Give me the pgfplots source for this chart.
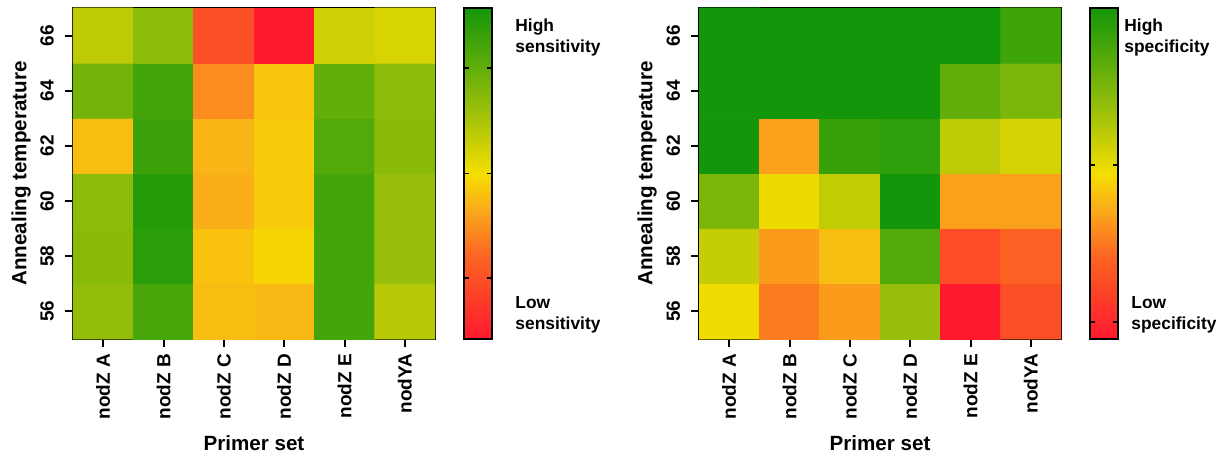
\documentclass[border=0pt]{standalone}
\usepackage{pgfplots}
\pgfplotsset{compat=1.18}
\usepackage{fontspec}
\setmainfont{Liberation Sans}
\setsansfont{Liberation Sans}

\pgfplotsset{
  heat/.style={
    width=181pt, height=165.5pt, scale only axis,
    xmin=-0.5, xmax=5.5, ymin=55, ymax=67,
    enlargelimits=false,
    xtick={0,...,5}, ytick={56,58,...,66},
    xticklabels={nodZ A, nodZ B, nodZ C, nodZ D, nodZ E, nodYA},
    tick align=outside, tick pos=left,
    axis line style={line width=1pt},
    major tick style={line width=1pt, black},
    major tick length=4pt,
    /pgf/number format/assume math mode=true,
    xticklabel style={rotate=90, anchor=east, font=\bfseries\fontsize{9.5}{10}\selectfont},
    yticklabel style={rotate=90, anchor=south, yshift=2pt, font=\bfseries\fontsize{9.5}{10}\selectfont},
    xlabel={Primer set}, ylabel={Annealing temperature},
    label style={font=\bfseries\fontsize{10.3}{12}\selectfont},
    xlabel style={at={(axis description cs:0.5,0)}, anchor=center, yshift=-52pt},
    ylabel style={at={(axis description cs:0,0.5)}, anchor=center, yshift=26pt},
    colormap={ryg}{rgb255(0cm)=(255,25,45) rgb255(2.5cm)=(252,100,35) rgb255(4cm)=(250,175,25)
      rgb255(5cm)=(245,222,0) rgb255(7cm)=(150,190,10) rgb255(10cm)=(20,150,10)},
    point meta min=0, point meta max=1,
    colorbar,
    colorbar style={at={(parent axis.north east)}, anchor=north west,
      xshift=6pt, width=14pt,
      yticklabels={}, ytick pos=both, tick align=inside,
      major tick length=2.5pt, axis line style={line width=0.6pt},
      major tick style={line width=0.8pt, black}},
  }
}

\begin{document}
\begin{tikzpicture}
\begin{axis}[heat, name=L,
  colorbar style={ytick={0.185,0.5,0.818}}]
\addplot[matrix plot*, mesh/cols=6, point meta=explicit] table[meta=c] {
x y c
0 56 0.71
1 56 0.88
2 56 0.43
3 56 0.42
4 56 0.89
5 56 0.63
0 58 0.73
1 58 0.95
2 58 0.44
3 58 0.48
4 58 0.89
5 58 0.70
0 60 0.72
1 60 0.96
2 60 0.40
3 60 0.46
4 60 0.89
5 60 0.70
0 62 0.43
1 62 0.91
2 62 0.41
3 62 0.46
4 62 0.86
5 62 0.73
0 64 0.78
1 64 0.89
2 64 0.33
3 64 0.45
4 64 0.82
5 64 0.72
0 66 0.62
1 66 0.72
2 66 0.18
3 66 0.00
4 66 0.58
5 66 0.56
};
\end{axis}

\begin{axis}[heat, name=R, at={(313pt,0)},
  colorbar style={ytick={0.052,0.526}}]
\addplot[matrix plot*, mesh/cols=6, point meta=explicit] table[meta=c] {
x y c
0 56 0.51
1 56 0.30
2 56 0.36
3 56 0.70
4 56 0.00
5 56 0.18
0 58 0.60
1 58 0.36
2 58 0.43
3 58 0.86
4 58 0.17
5 58 0.24
0 60 0.76
1 60 0.52
2 60 0.61
3 60 1.00
4 60 0.37
5 60 0.37
0 62 1.00
1 62 0.37
2 62 0.92
3 62 0.94
4 62 0.62
5 62 0.57
0 64 1.00
1 64 1.00
2 64 1.00
3 64 1.00
4 64 0.82
5 64 0.76
0 66 1.00
1 66 1.00
2 66 1.00
3 66 1.00
4 66 1.00
5 66 0.90
};
\end{axis}

\begin{scope}[every node/.style={anchor=north west, align=left, inner sep=0pt,
    font=\bfseries\fontsize{8.7}{10.5}\selectfont}]
\node at ([xshift=40pt, yshift=-5pt]L.north east) {High\\sensitivity};
\node at ([xshift=40pt, yshift=21.5pt]L.south east) {Low\\sensitivity};
\node at ([xshift=31.5pt, yshift=-5pt]R.north east) {High\\specificity};
\node at ([xshift=35pt, yshift=21.5pt]R.south east) {Low\\specificity};
\end{scope}

\path (-36.5pt,-59pt) rectangle (576pt,169.5pt);
\end{tikzpicture}
\end{document}
